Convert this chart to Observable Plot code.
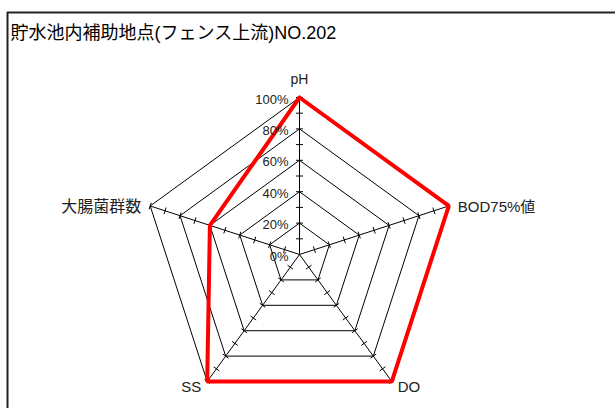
<!DOCTYPE html>
<html>
<head>
<meta charset="utf-8">
<script src="https://cdn.jsdelivr.net/npm/d3@7"></script>
<script src="https://cdn.jsdelivr.net/npm/@observablehq/plot@0.6"></script>
<style>
  html, body { margin: 0; padding: 0; background: #fff; }
  #chart svg { display: block; }
</style>
</head>
<body>
<div id="chart"></div>
<script>
// ---- data ----
const title = "貯水池内補助地点(フェンス上流)NO.202";
const axes = ["pH", "BOD75%値", "DO", "SS", "大腸菌群数"];
const values = [100, 100, 100, 100, 60];
const gridLevels = [20, 40, 60, 80, 100];
const tickLevels = [0, 20, 40, 60, 80, 100];
const tickLabels = ["0%", "20%", "40%", "60%", "80%", "100%"];
const minorLevels = [10, 20, 30, 40, 50, 60, 70, 80, 90, 100];

// ---- geometry helpers ----
const n = axes.length;
const ang = i => Math.PI / 2 - i * 2 * Math.PI / n;
const pt = (i, v) => [v / 100 * Math.cos(ang(i)), v / 100 * Math.sin(ang(i))];

const W = 615, H = 408, mL = 7, mT = 12;
const cx = 299, cy = 254, R = 157;
const xDomain = [-(cx - mL) / R, (W - cx) / R];
const yDomain = [-(H - cy) / R, (cy - mT) / R];

const gridData = gridLevels.flatMap(L =>
  d3.range(n + 1).map(k => { const [x, y] = pt(k % n, L); return {L, x, y}; }));
const spokes = axes.map((a, i) => { const [x, y] = pt(i, 100); return {x1: 0, y1: 0, x2: x, y2: y}; });
const h = 0.022;
const ticks = axes.flatMap((a, i) => minorLevels.map(L => {
  const [x, y] = pt(i, L);
  const nx = -Math.sin(ang(i)), ny = Math.cos(ang(i));
  return {x1: x - h * nx, y1: y - h * ny, x2: x + h * nx, y2: y + h * ny};
}));
const series = d3.range(n + 1).map(k => { const [x, y] = pt(k % n, values[k % n]); return {x, y}; });
const tickText = tickLevels.map((L, j) => ({x: 0, y: L / 100, t: tickLabels[j]}));
const labelPos = axes.map((a, i) => { const [x, y] = pt(i, 100); return {a, x, y}; });

const font = "'Liberation Sans', Arial, 'Noto Sans CJK JP', sans-serif";

const chart = Plot.plot({
  width: W, height: H,
  marginLeft: mL, marginTop: mT, marginRight: 0, marginBottom: 0,
  x: {domain: xDomain, axis: null},
  y: {domain: yDomain, axis: null},
  style: {fontFamily: font, background: "#fff", overflow: "visible"},
  marks: [
    Plot.ruleX([xDomain[0]], {stroke: "#222", strokeWidth: 2}),
    Plot.ruleY([yDomain[1]], {stroke: "#222", strokeWidth: 2}),
    Plot.text([title], {frameAnchor: "top-left", dx: 3, dy: 21, lineAnchor: "middle",
      fontSize: 18, fill: "#000", fontFamily: font}),
    Plot.line(gridData, {x: "x", y: "y", z: "L", stroke: "#000", strokeWidth: 1}),
    Plot.link(spokes, {x1: "x1", y1: "y1", x2: "x2", y2: "y2", stroke: "#000", strokeWidth: 1}),
    Plot.link(ticks, {x1: "x1", y1: "y1", x2: "x2", y2: "y2", stroke: "#000", strokeWidth: 1}),
    Plot.line(series, {x: "x", y: "y", stroke: "#ff0000", strokeWidth: 4, strokeLinejoin: "miter"}),
    Plot.text(tickText, {x: "x", y: "y", text: "t", textAnchor: "end", dx: -11, dy: 2, fontSize: 13, fill: "#222"}),
    Plot.text([labelPos[0]], {x: "x", y: "y", text: "a", textAnchor: "middle", dy: -18, fontSize: 14, fill: "#222"}),
    Plot.text([labelPos[1]], {x: "x", y: "y", text: "a", textAnchor: "start", dx: 9, dy: 1, fontSize: 15, fill: "#222"}),
    Plot.text([labelPos[2]], {x: "x", y: "y", text: "a", textAnchor: "start", dx: 6, dy: 6, fontSize: 15, fill: "#222"}),
    Plot.text([labelPos[3]], {x: "x", y: "y", text: "a", textAnchor: "end", dx: -6, dy: 6, fontSize: 15, fill: "#222"}),
    Plot.text([labelPos[4]], {x: "x", y: "y", text: "a", textAnchor: "end", dx: -9, dy: 1, fontSize: 16, fill: "#222"})
  ]
});
document.getElementById("chart").appendChild(chart);
</script>
</body>
</html>
